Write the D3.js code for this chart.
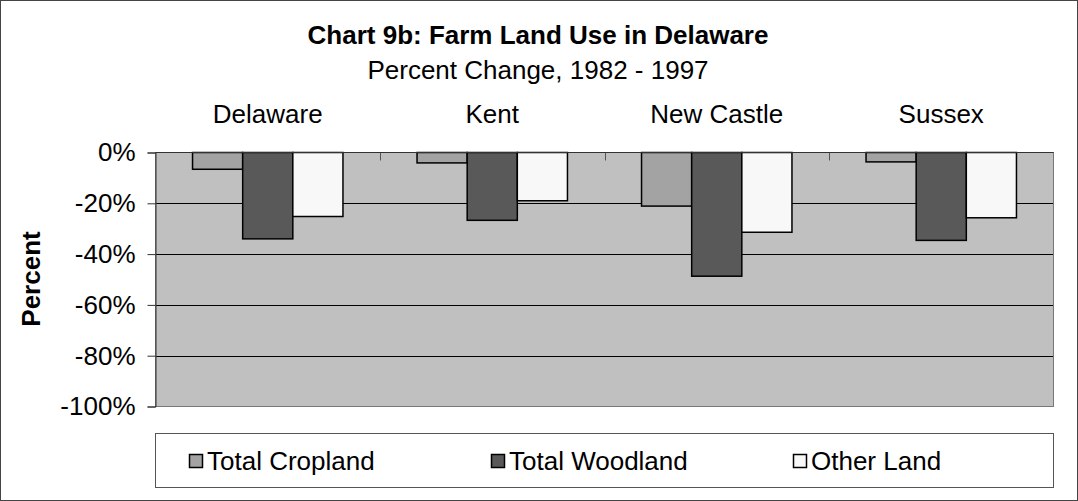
<!DOCTYPE html>
<html>
<head>
<meta charset="utf-8">
<script src="https://cdn.jsdelivr.net/npm/d3@7"></script>
<style>
  body { margin: 0; background: #fff; }
  svg { display: block; font-family: "Liberation Sans", Arial, sans-serif; }
</style>
</head>
<body>
<svg id="chart"></svg>
<script>
const regions = ['Delaware', 'Kent', 'New Castle', 'Sussex'];
const seriesNames = ['Total Cropland', 'Total Woodland', 'Other Land'];
const cropland = [-6.6, -4.1, -21.1, -3.7];
const woodland = [-34.0, -26.7, -48.7, -34.6];
const otherLand = [-25.2, -19.0, -31.4, -25.7];
const yTicks = [0, -20, -40, -60, -80, -100];
const colors = ['#a3a3a3', '#595959', '#f8f8f8'];

const W = 1078, H = 501;
const plot = {left: 155.5, top: 152.5, right: 1053.5, bottom: 406.5};
const fs = '26px';

const svg = d3.select('#chart')
  .attr('width', W)
  .attr('height', H);

// outer border
svg.append('rect')
  .attr('x', 0.5).attr('y', 0.5)
  .attr('width', W - 1).attr('height', H - 1)
  .attr('fill', '#fff')
  .attr('stroke', '#444');

svg.append('text')
  .attr('x', 538).attr('y', 44)
  .attr('text-anchor', 'middle')
  .style('font-size', fs).style('font-weight', 'bold')
  .text('Chart 9b: Farm Land Use in Delaware');

svg.append('text')
  .attr('x', 538).attr('y', 79)
  .attr('text-anchor', 'middle')
  .style('font-size', fs)
  .text('Percent Change, 1982 - 1997');

const x0 = d3.scaleBand()
  .domain(regions)
  .range([plot.left, plot.right])
  .paddingInner(0.33)
  .paddingOuter(0.165);

const x1 = d3.scaleBand()
  .domain(seriesNames)
  .range([0, x0.bandwidth()]);

const y = d3.scaleLinear()
  .domain([-100, 0])
  .range([plot.bottom, plot.top]);

// plot background
svg.append('rect')
  .attr('x', plot.left).attr('y', plot.top)
  .attr('width', plot.right - plot.left)
  .attr('height', plot.bottom - plot.top)
  .attr('fill', '#c0c0c0');

// gridlines
svg.append('g')
  .selectAll('line')
  .data(yTicks.filter(d => d !== 0 && d !== -100))
  .enter()
  .append('line')
  .attr('x1', plot.left).attr('x2', plot.right)
  .attr('y1', d => Math.round(y(d)) + 0.5).attr('y2', d => Math.round(y(d)) + 0.5)
  .attr('stroke', '#000')
  .attr('stroke-width', 1);

// plot border
svg.append('rect')
  .attr('x', plot.left).attr('y', plot.top)
  .attr('width', plot.right - plot.left)
  .attr('height', plot.bottom - plot.top)
  .attr('fill', 'none')
  .attr('stroke', '#777');

// bars
const values = [cropland, woodland, otherLand];
const rows = [];
regions.forEach((r, i) => {
  seriesNames.forEach((s, j) => {
    rows.push({region: r, series: s, value: values[j][i], color: colors[j]});
  });
});

svg.append('g')
  .selectAll('rect')
  .data(rows)
  .enter()
  .append('rect')
  .attr('x', d => x0(d.region) + x1(d.series))
  .attr('y', y(0))
  .attr('width', x1.bandwidth())
  .attr('height', d => y(d.value) - y(0))
  .attr('fill', d => d.color)
  .attr('stroke', '#000')
  .attr('stroke-width', 1.5);

// y axis
const yAxis = svg.append('g')
  .attr('transform', `translate(${plot.left}, 0)`)
  .call(d3.axisLeft(y).tickValues(yTicks).tickSize(8).tickPadding(12).tickFormat(d => d + '%'));
yAxis.select('.domain').attr('stroke', '#333');
yAxis.selectAll('.tick line').attr('stroke', '#333');
yAxis.selectAll('text')
  .style('font-size', fs)
  .style('font-family', '"Liberation Sans", Arial, sans-serif')
  .attr('fill', '#000');

// category axis along zero line, ticks inward, labels above
const catTicks = regions.slice(1).map(r => x0(r) - x0.step() * x0.paddingInner() / 2);
svg.append('g')
  .selectAll('line')
  .data(catTicks)
  .enter()
  .append('line')
  .attr('x1', d => Math.round(d) + 0.5).attr('x2', d => Math.round(d) + 0.5)
  .attr('y1', y(0)).attr('y2', y(0) + 8)
  .attr('stroke', '#555');

svg.append('line')
  .attr('x1', plot.left).attr('x2', plot.right)
  .attr('y1', y(0)).attr('y2', y(0))
  .attr('stroke', '#333');

svg.append('g')
  .selectAll('text')
  .data(regions)
  .enter()
  .append('text')
  .attr('x', d => x0(d) + x0.bandwidth() / 2)
  .attr('y', 123)
  .attr('text-anchor', 'middle')
  .style('font-size', fs)
  .text(d => d);

svg.append('text')
  .attr('transform', 'rotate(-90)')
  .attr('x', -279)
  .attr('y', 40)
  .attr('text-anchor', 'middle')
  .style('font-size', fs).style('font-weight', 'bold')
  .text('Percent');

// legend
svg.append('rect')
  .attr('x', 155.5).attr('y', 433.5)
  .attr('width', 898).attr('height', 54)
  .attr('fill', '#fff')
  .attr('stroke', '#555');

const legendX = [189, 491, 793];
const legend = svg.append('g')
  .selectAll('g')
  .data(seriesNames)
  .enter()
  .append('g')
  .attr('transform', (d, i) => `translate(${legendX[i]}, 461)`);

legend.append('rect')
  .attr('x', 0.5).attr('y', -6.5)
  .attr('width', 13).attr('height', 13)
  .attr('fill', (d, i) => colors[i])
  .attr('stroke', '#000')
  .attr('stroke-width', 1.5);

legend.append('text')
  .attr('x', 18).attr('y', 9)
  .style('font-size', fs)
  .text(d => d);
</script>
</body>
</html>
